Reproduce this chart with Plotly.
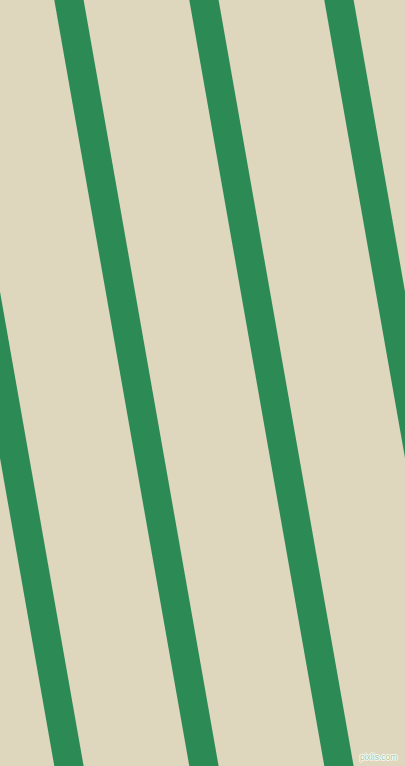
import plotly.graph_objects as go

# canvas in pixels
W, H = 405, 766

# left edge of each stripe where it meets the top edge (px)
stripe_starts = [-80.7, 54.3, 189.3, 324.3]
stripe_width = 29.3
# horizontal drift of every stripe from top to bottom (px)
stripe_drift = 135.0

bg_color = '#DED6BD'
stripe_color = '#2C8A55'

fig = go.Figure()

for x0 in stripe_starts:
    xs = [x0, x0 + stripe_width, x0 + stripe_width + stripe_drift, x0 + stripe_drift, x0]
    ys = [0, 0, H, H, 0]
    fig.add_trace(go.Scatter(x=xs, y=ys, mode='lines', fill='toself',
                             fillcolor=stripe_color, line=dict(width=0),
                             hoverinfo='skip', showlegend=False))

fig.add_annotation(x=399, y=757, xref='x', yref='y', xanchor='right', yanchor='middle',
                   text='pixlis.com', showarrow=False,
                   font=dict(family='Liberation Sans', size=8.5, color='#A3C795',
                             shadow='1px 0 0 #fff, -1px 0 0 #fff, 0 1px 0 #fff, 0 -1px 0 #fff'))

fig.update_xaxes(range=[0, W], visible=False, fixedrange=True)
fig.update_yaxes(range=[H, 0], visible=False, fixedrange=True)
fig.update_layout(width=W, height=H, margin=dict(l=0, r=0, t=0, b=0),
                  paper_bgcolor=bg_color, plot_bgcolor=bg_color)

# drop the browser's default body margin so the plot sits at 0,0
fig.write_html("out.html", config={'displayModeBar': False},
               post_script="document.body.style.margin='0';document.body.style.overflow='hidden';")
